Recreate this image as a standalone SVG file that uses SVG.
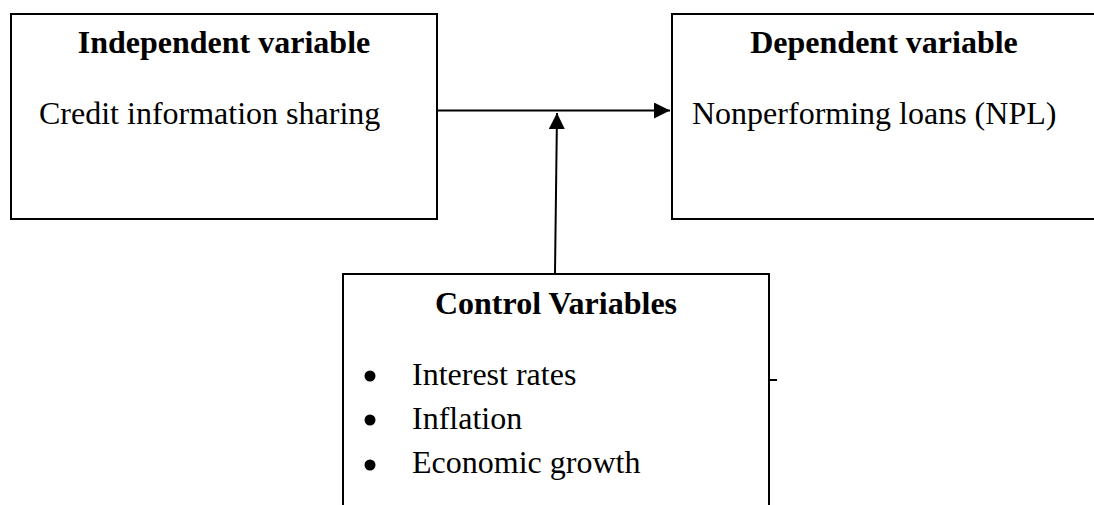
<svg xmlns="http://www.w3.org/2000/svg" width="1094" height="505" viewBox="0 0 1094 505">
<style>
.box{fill:#fff;stroke:#000;stroke-width:2}
.t{font-family:"Liberation Serif","Times New Roman",serif;font-size:32px;fill:#000}
.b{font-weight:bold}
.c{stroke:#000;stroke-width:2;fill:none}
</style>
<defs>
<marker id="ah" viewBox="0 0 16 16" refX="16" refY="8" markerWidth="16" markerHeight="16" markerUnits="userSpaceOnUse" orient="auto">
<path d="M0,0 L16,8 L0,16 Z" fill="#000"/>
</marker>
</defs>
<rect width="1094" height="505" fill="#fff"/>
<g id="independent">
<rect class="box" x="11" y="14" width="426" height="205"/>
<text class="t b" x="224" y="53" text-anchor="middle">Independent variable</text>
<text class="t" x="39" y="124">Credit information sharing</text>
</g>
<g id="dependent">
<rect class="box" x="672" y="14" width="440" height="205"/>
<text class="t b" x="884" y="53" text-anchor="middle">Dependent variable</text>
<text class="t" x="692" y="124">Nonperforming loans (NPL)</text>
</g>
<g id="control">
<rect class="box" x="343" y="274" width="426" height="250"/>
<line class="c" x1="769" y1="380" x2="777" y2="380"/>
<text class="t b" x="556" y="314" text-anchor="middle">Control Variables</text>
<circle cx="370" cy="376" r="5.5" fill="#000"/>
<circle cx="370" cy="420" r="5.5" fill="#000"/>
<circle cx="370" cy="465" r="5.5" fill="#000"/>
<text class="t" x="412" y="385">Interest rates</text>
<text class="t" x="412" y="429">Inflation</text>
<text class="t" x="412" y="473">Economic growth</text>
</g>
<g id="connectors">
<line class="c" x1="437" y1="110.5" x2="670" y2="110.5" marker-end="url(#ah)"/>
<line class="c" x1="555" y1="273" x2="557" y2="113" marker-end="url(#ah)"/>
</g>
</svg>
